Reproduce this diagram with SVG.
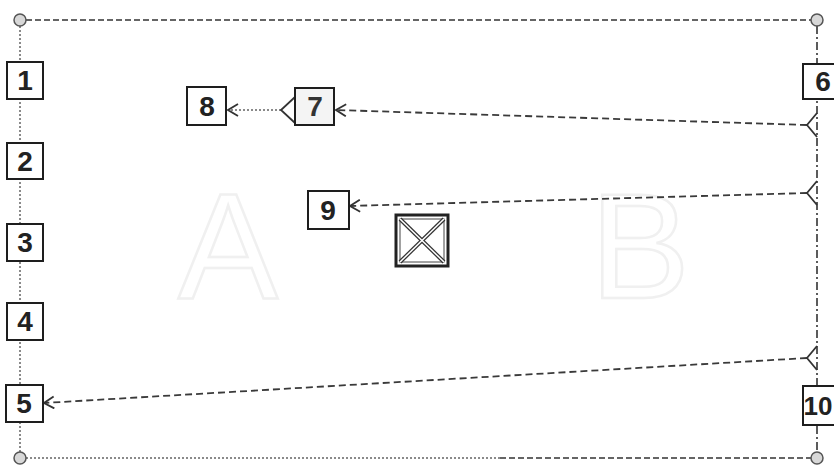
<svg xmlns="http://www.w3.org/2000/svg" width="834" height="467" viewBox="0 0 834 467">
<style>
.bg{fill:#ffffff}
.box{fill:#ffffff;stroke:#1e1e1e;stroke-width:2}
.lbl{font-family:"Liberation Sans",Arial,sans-serif;font-weight:bold;font-size:28px;fill:#222;text-anchor:middle}
.wm{font-family:"Liberation Sans",Arial,sans-serif;font-size:150px;fill:none;stroke:#f0f0f0;stroke-width:2.5;text-anchor:middle}
.corner{fill:#d8d8d8;stroke:#555;stroke-width:1.5}
.dotg{fill:none;stroke:#8a8a8a;stroke-width:2;stroke-dasharray:2 2}
.dash{fill:none;stroke:#333;stroke-width:1.6;stroke-dasharray:6 3}
.dashdot{fill:none;stroke:#333;stroke-width:1.6;stroke-dasharray:8 3 2 3}
.conn{fill:none;stroke:#3a3a3a;stroke-width:1.8;stroke-dasharray:7 4}
.head{fill:none;stroke:#333;stroke-width:1.8}
</style>
<defs>
<marker id="open" viewBox="0 0 12 14" refX="11" refY="7" markerWidth="12" markerHeight="14" markerUnits="userSpaceOnUse" orient="auto">
<path d="M1,1 L11,7 L1,13" fill="none" stroke="#333" stroke-width="1.8"/>
</marker>
</defs>
<rect class="bg" width="834" height="467"/>
<text class="wm" x="228" y="298">A</text>
<text class="wm" x="640" y="298">B</text>
<g id="frame">
<line class="dash" x1="26" y1="20" x2="811" y2="20"/>
<line class="dotg" x1="20" y1="26" x2="20" y2="452"/>
<line class="dotg" x1="26" y1="458" x2="500" y2="458"/>
<line class="dash" x1="500" y1="458" x2="811" y2="458"/>
<line class="dashdot" x1="817" y1="26" x2="817" y2="452"/>
<circle class="corner" cx="20" cy="20" r="6"/>
<circle class="corner" cx="817" cy="20" r="6"/>
<circle class="corner" cx="20" cy="458" r="6"/>
<circle class="corner" cx="817" cy="458" r="6"/>
</g>
<g id="connectors">
<line class="conn" x1="807" y1="125" x2="336" y2="110" marker-end="url(#open)"/>
<polyline class="head" points="817,113 807,125 817,137"/>
<line class="conn" x1="807" y1="193" x2="350" y2="206" marker-end="url(#open)"/>
<polyline class="head" points="817,181 807,193 817,205"/>
<line class="conn" x1="807" y1="358" x2="44" y2="403" marker-end="url(#open)"/>
<polyline class="head" points="817,346 807,358 817,370"/>
<line class="dotg" x1="281" y1="110" x2="228" y2="110" marker-end="url(#open)"/>
<polyline class="head" points="295,97 281,110 295,123"/>
</g>
<g id="n1"><rect class="box" x="7" y="62" width="36" height="37"/><text class="lbl" x="25" y="90">1</text></g>
<g id="n2"><rect class="box" x="7" y="143" width="36" height="36"/><text class="lbl" x="25" y="171">2</text></g>
<g id="n3"><rect class="box" x="7" y="224" width="36" height="37"/><text class="lbl" x="25" y="252">3</text></g>
<g id="n4"><rect class="box" x="7" y="303" width="36" height="37"/><text class="lbl" x="25" y="331">4</text></g>
<g id="n5"><rect class="box" x="6" y="385" width="37" height="37"/><text class="lbl" x="24" y="413">5</text></g>
<g id="n6"><rect class="box" x="803" y="64" width="40" height="35"/><text class="lbl" x="823" y="91">6</text></g>
<g id="n10"><rect class="box" x="803" y="386" width="40" height="39"/><text class="lbl" x="818" y="415" style="font-size:26px">10</text></g>
<g id="n7"><rect class="box" x="295" y="88" width="39" height="37" style="fill:#f4f4f4"/><text class="lbl" x="315" y="116" style="fill:#333">7</text></g>
<g id="n8"><rect class="box" x="187" y="87" width="39" height="38"/><text class="lbl" x="207" y="116">8</text></g>
<g id="n9"><rect class="box" x="308" y="191" width="41" height="38"/><text class="lbl" x="328" y="220">9</text></g>
<g id="xbox">
<rect x="396" y="215" width="52" height="51" fill="#fff" stroke="#222" stroke-width="3"/>
<rect x="400" y="219" width="44" height="43" fill="none" stroke="#444" stroke-width="1"/>
<line x1="400" y1="219" x2="444" y2="262" stroke="#333" stroke-width="4"/>
<line x1="444" y1="219" x2="400" y2="262" stroke="#333" stroke-width="4"/>
<line x1="400" y1="219" x2="444" y2="262" stroke="#fff" stroke-width="1.5"/>
<line x1="444" y1="219" x2="400" y2="262" stroke="#fff" stroke-width="1.5"/>
</g>
</svg>
